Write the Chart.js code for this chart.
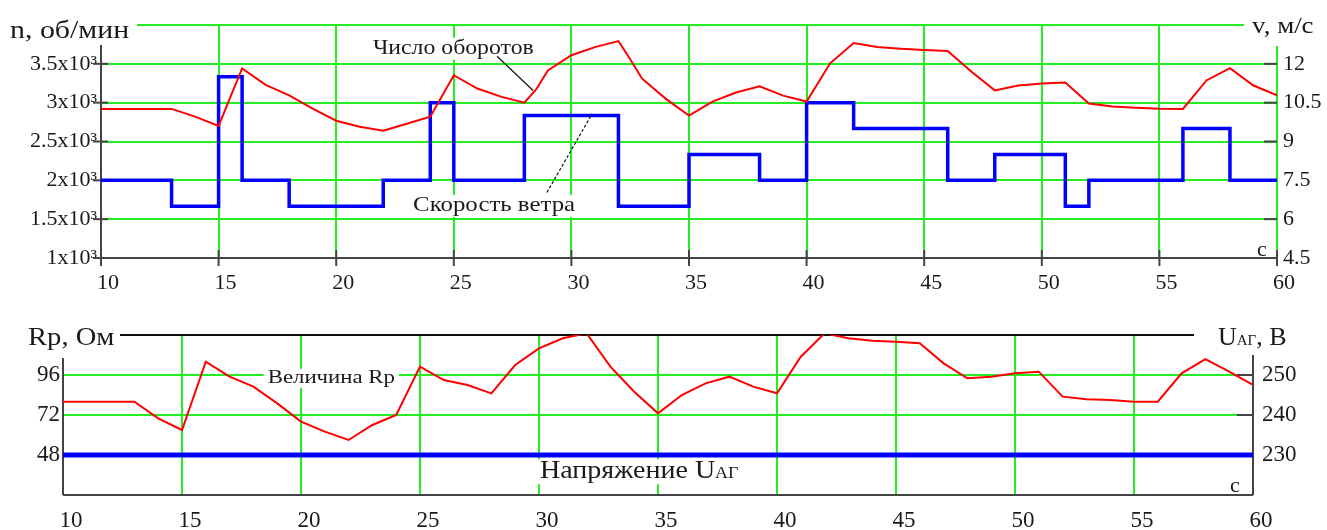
<!DOCTYPE html>
<html>
<head>
<meta charset="utf-8">
<script src="https://cdn.jsdelivr.net/npm/chart.js@4.4.0/dist/chart.umd.min.js"></script>
<style>
  body { margin: 0; background: #fff; }
  canvas { position: absolute; left: 0; }
  #chartTop { top: 0; }
  #chartBot { top: 300px; }
</style>
</head>
<body>
<canvas id="chartTop" width="1327" height="300"></canvas>
<canvas id="chartBot" width="1327" height="230"></canvas>
<script>
// --- top chart: rotor speed n (rpm) and wind speed v (m/s) ---
var rpmTime   = [10, 13, 14, 15, 16, 17, 18, 19, 20, 21, 22, 23, 24, 25, 26, 27, 28, 28.5, 29, 30, 31, 32, 32.5, 33, 34, 35, 36, 37, 38, 39, 40, 41, 42, 43, 44, 45, 46, 47, 48, 49, 50, 51, 52, 53, 54, 55, 56, 57, 58, 59, 60];
var rpmValues = [2920, 2920, 2820, 2700, 3440, 3230, 3093, 2923, 2768, 2689, 2640, 2728, 2820, 3353, 3182, 3078, 3000, 3170, 3416, 3611, 3715, 3793, 3560, 3312, 3052, 2833, 3013, 3130, 3210, 3091, 3015, 3507, 3769, 3717, 3695, 3677, 3665, 3400, 3158, 3221, 3247, 3260, 2990, 2950, 2935, 2923, 2920, 3286, 3444, 3221, 3093];

var windTime  = [10, 13, 15, 16, 18, 22, 24, 25, 28, 32, 35, 38, 40, 42, 46, 48, 51, 52, 56, 58, 60];
var windSpeed = [7.5, 6.5, 11.5, 7.5, 6.5, 7.5, 10.5, 7.5, 10, 6.5, 8.5, 7.5, 10.5, 9.5, 7.5, 8.5, 6.5, 7.5, 9.5, 7.5, 7.5];

// --- bottom chart: resistance Rp (Ohm) and generator voltage U (V) ---
var resTime   = [10, 13, 14, 15, 16, 17, 18, 19, 20, 21, 22, 23, 24, 25, 26, 27, 28, 29, 30, 31, 32, 33, 34, 35, 36, 37, 38, 39, 40, 41, 42, 43, 44, 45, 46, 47, 48, 49, 50, 51, 52, 53, 54, 55, 56, 57, 58, 59, 60];
var resValues = [80, 80, 70, 63, 104, 95, 89, 79, 68, 62, 57, 66, 72, 101, 93, 90, 85, 102, 112, 118, 121, 101, 86, 73, 84, 91, 95, 89, 85, 107, 121, 118, 116.5, 116, 115, 103, 94, 95, 97, 98, 83, 81.5, 81, 80, 80, 97, 105.5, 98, 90];

var voltTime   = [10, 60];
var voltValues = [230, 230];

// tick ranges [min, max, step]
var rpmRange  = [1000, 4000, 500];
var windRange = [4.5, 13.5, 1.5];
var resRange  = [24, 120, 24];
var voltRange = [220, 260, 10];
var timeRange = [10, 60, 5];

var GREEN = '#22ee22';
var RED = '#ff0000';
var BLUE = '#0000ff';
var INK = '#1a1a1a';
var AXIS = '#444444';
var SERIF = '"Liberation Serif", "Times New Roman", serif';

function pts(xs, ys) {
    return xs.map(function (x, i) { return { x: x, y: ys[i] }; });
}

function line(ctx, x1, y1, x2, y2, color, w, dash) {
    ctx.save();
    ctx.strokeStyle = color;
    ctx.lineWidth = w;
    ctx.setLineDash(dash || []);
    ctx.beginPath();
    ctx.moveTo(x1, y1);
    ctx.lineTo(x2, y2);
    ctx.stroke();
    ctx.restore();
}

// parts: [[text, size], ...] drawn on one baseline, stretched horizontally
function text(ctx, parts, x, y, stretch, bg) {
    ctx.save();
    ctx.textBaseline = 'alphabetic';
    var w = 0, maxSize = 0;
    parts.forEach(function (p) {
        ctx.font = p[1] + 'px ' + SERIF;
        w += ctx.measureText(p[0]).width;
        maxSize = Math.max(maxSize, p[1]);
    });
    if (bg) {
        ctx.fillStyle = '#fff';
        ctx.fillRect(x - 4, y - maxSize * 0.75, w * stretch + 8, maxSize * 1.0);
    }
    ctx.translate(x, y);
    ctx.scale(stretch, 1);
    ctx.fillStyle = INK;
    var cx = 0;
    parts.forEach(function (p) {
        ctx.font = p[1] + 'px ' + SERIF;
        ctx.fillText(p[0], cx, 0);
        cx += ctx.measureText(p[0]).width;
    });
    ctx.restore();
}

function tickList(r) {
    var out = [];
    for (var v = r[0]; v <= r[1] + 1e-9; v += r[2]) out.push(Math.round(v * 100) / 100);
    return out;
}

var topDecor = {
    id: 'topDecor',
    beforeDatasetsDraw: function (chart) {
        var ctx = chart.ctx, a = chart.chartArea, s = chart.scales;
        line(ctx, a.left, a.top + 20, a.left, a.bottom + 8, AXIS, 2);
        line(ctx, a.left, a.bottom, a.right, a.bottom, AXIS, 2);
        tickList(timeRange).forEach(function (t) {
            var px = s.x.getPixelForValue(t);
            line(ctx, px, a.bottom - 8, px, a.bottom + 8, AXIS, 2);
        });
        tickList(rpmRange).slice(0, -1).forEach(function (n) {
            var py = s.n.getPixelForValue(n);
            line(ctx, a.left - 8, py, a.left + 7, py, AXIS, 2);
        });
        tickList(windRange).slice(0, -1).forEach(function (v) {
            var py = s.v.getPixelForValue(v);
            line(ctx, a.right - 13, py, a.right, py, AXIS, 2);
        });
    },
    afterDraw: function (chart) {
        var ctx = chart.ctx, a = chart.chartArea, s = chart.scales;
        // axis titles
        ctx.fillStyle = '#fff';
        ctx.fillRect(0, 0, 137, 45);
        ctx.fillRect(1244, 0, 83, 46);
        text(ctx, [['n, об/мин', 26]], 10, 38, 1.15);
        text(ctx, [['v, м/с', 24]], 1252, 33, 1.12);
        // curve labels with leader lines
        text(ctx, [['Число оборотов', 22]], s.x.getPixelForValue(21.56), s.n.getPixelForValue(3624), 1.08, true);
        line(ctx, s.x.getPixelForValue(26.84), s.n.getPixelForValue(3598),
                  s.x.getPixelForValue(28.37), s.n.getPixelForValue(3156), '#111', 1.2);
        text(ctx, [['Скорость ветра', 22]], s.x.getPixelForValue(23.27), s.v.getPixelForValue(6.3), 1.13, true);
        line(ctx, s.x.getPixelForValue(28.96), s.v.getPixelForValue(7.03),
                  s.x.getPixelForValue(30.88), s.v.getPixelForValue(10.07), '#111', 1.2, [3, 2]);
        text(ctx, [['с', 22]], a.right - 20, a.bottom - 2, 1);
    }
};

var botDecor = {
    id: 'botDecor',
    beforeDatasetsDraw: function (chart) {
        var ctx = chart.ctx, a = chart.chartArea, s = chart.scales;
        line(ctx, a.left, a.top, a.right, a.top, '#111', 2);
        line(ctx, a.left, a.top + 23, a.left, a.bottom, AXIS, 2);
        line(ctx, a.right, a.top + 20, a.right, a.bottom, AXIS, 2);
        line(ctx, a.left, a.bottom, a.right, a.bottom, AXIS, 2);
        tickList(voltRange).slice(1, -1).forEach(function (u) {
            var py = s.volt.getPixelForValue(u);
            line(ctx, a.right - 16, py, a.right, py, AXIS, 2);
        });
    },
    afterDraw: function (chart) {
        var ctx = chart.ctx, a = chart.chartArea, s = chart.scales;
        ctx.fillStyle = '#fff';
        ctx.fillRect(0, 14, 120, 40);
        ctx.fillRect(1194, 12, 133, 42);
        text(ctx, [['Rp, Ом', 26]], 28, 45, 1.1);
        text(ctx, [['U', 26], ['АГ', 15], [', В', 26]], 1218, 45, 1.0);
        text(ctx, [['Величина Rp', 19]], s.x.getPixelForValue(18.6), s.res.getPixelForValue(91.2), 1.2, true);
        text(ctx, [['Напряжение U', 25], ['АГ', 16]], s.x.getPixelForValue(30.04), s.res.getPixelForValue(34.2), 1.12, true);
        text(ctx, [['с', 22]], a.right - 23, a.bottom - 3, 1);
    }
};

function gridColor(hidden) {
    return function (c) {
        return hidden.indexOf(c.tick.value) >= 0 ? 'rgba(0,0,0,0)' : GREEN;
    };
}

new Chart(document.getElementById('chartTop').getContext('2d'), {
    type: 'line',
    data: {
        datasets: [{
            data: pts(rpmTime, rpmValues),
            yAxisID: 'n',
            borderColor: RED,
            borderWidth: 2,
            pointRadius: 0
        }, {
            data: pts(windTime, windSpeed),
            yAxisID: 'v',
            stepped: 'before',
            borderColor: BLUE,
            borderWidth: 3.5,
            pointRadius: 0
        }]
    },
    options: {
        responsive: false,
        animation: false,
        devicePixelRatio: 1,
        layout: { padding: { top: 25, left: 0, right: 0, bottom: 0 } },
        plugins: { legend: { display: false }, tooltip: { enabled: false } },
        scales: {
            x: {
                type: 'linear', min: timeRange[0], max: timeRange[1],
                afterFit: function (s) { s.height = 42; },
                ticks: { stepSize: timeRange[2], color: INK, padding: 12, labelOffset: 7, font: { family: SERIF, size: 22 } },
                grid: { drawTicks: false, lineWidth: 2, color: gridColor([10]) },
                border: { display: false }
            },
            n: {
                axis: 'y', position: 'left', min: rpmRange[0], max: rpmRange[1],
                afterFit: function (s) { s.width = 101; },
                ticks: {
                    stepSize: rpmRange[2], color: INK, padding: 4, font: { family: SERIF, size: 22 },
                    callback: function (v) { return v === rpmRange[1] ? '' : (v / 1000) + 'x10³'; }
                },
                grid: { drawTicks: false, lineWidth: 2, color: gridColor([1000]) },
                border: { display: false }
            },
            v: {
                axis: 'y', position: 'right', min: windRange[0], max: windRange[1],
                afterFit: function (s) { s.width = 50; },
                ticks: {
                    stepSize: windRange[2], color: INK, padding: -2, font: { family: SERIF, size: 22 },
                    callback: function (v) { return v === windRange[1] ? '' : String(v); }
                },
                grid: { display: false },
                border: { display: false }
            }
        }
    },
    plugins: [topDecor]
});

new Chart(document.getElementById('chartBot').getContext('2d'), {
    type: 'line',
    data: {
        datasets: [{
            data: pts(resTime, resValues),
            yAxisID: 'res',
            borderColor: RED,
            borderWidth: 2,
            pointRadius: 0
        }, {
            data: pts(voltTime, voltValues),
            yAxisID: 'volt',
            borderColor: BLUE,
            borderWidth: 5,
            pointRadius: 0
        }]
    },
    options: {
        responsive: false,
        animation: false,
        devicePixelRatio: 1,
        layout: { padding: { top: 35, left: 0, right: 0, bottom: 0 } },
        plugins: { legend: { display: false }, tooltip: { enabled: false } },
        scales: {
            x: {
                type: 'linear', min: timeRange[0], max: timeRange[1],
                afterFit: function (s) { s.height = 35; },
                ticks: { stepSize: timeRange[2], color: INK, padding: 12, labelOffset: 8, font: { family: SERIF, size: 23 } },
                grid: { drawTicks: false, lineWidth: 2, color: gridColor([10, 60]) },
                border: { display: false }
            },
            res: {
                axis: 'y', position: 'left', min: resRange[0], max: resRange[1],
                afterFit: function (s) { s.width = 63; },
                ticks: {
                    stepSize: resRange[2], color: INK, padding: 3, font: { family: SERIF, size: 23 },
                    callback: function (v) { return (v === resRange[0] || v === resRange[1]) ? '' : String(v); }
                },
                grid: { drawTicks: false, lineWidth: 2, color: gridColor([24, 120]) },
                border: { display: false }
            },
            volt: {
                axis: 'y', position: 'right', min: voltRange[0], max: voltRange[1],
                afterFit: function (s) { s.width = 74; },
                ticks: {
                    stepSize: voltRange[2], color: INK, padding: 1, font: { family: SERIF, size: 23 },
                    callback: function (v) { return (v === voltRange[0] || v === voltRange[1]) ? '' : String(v); }
                },
                grid: { display: false },
                border: { display: false }
            }
        }
    },
    plugins: [botDecor]
});
</script>
</body>
</html>
